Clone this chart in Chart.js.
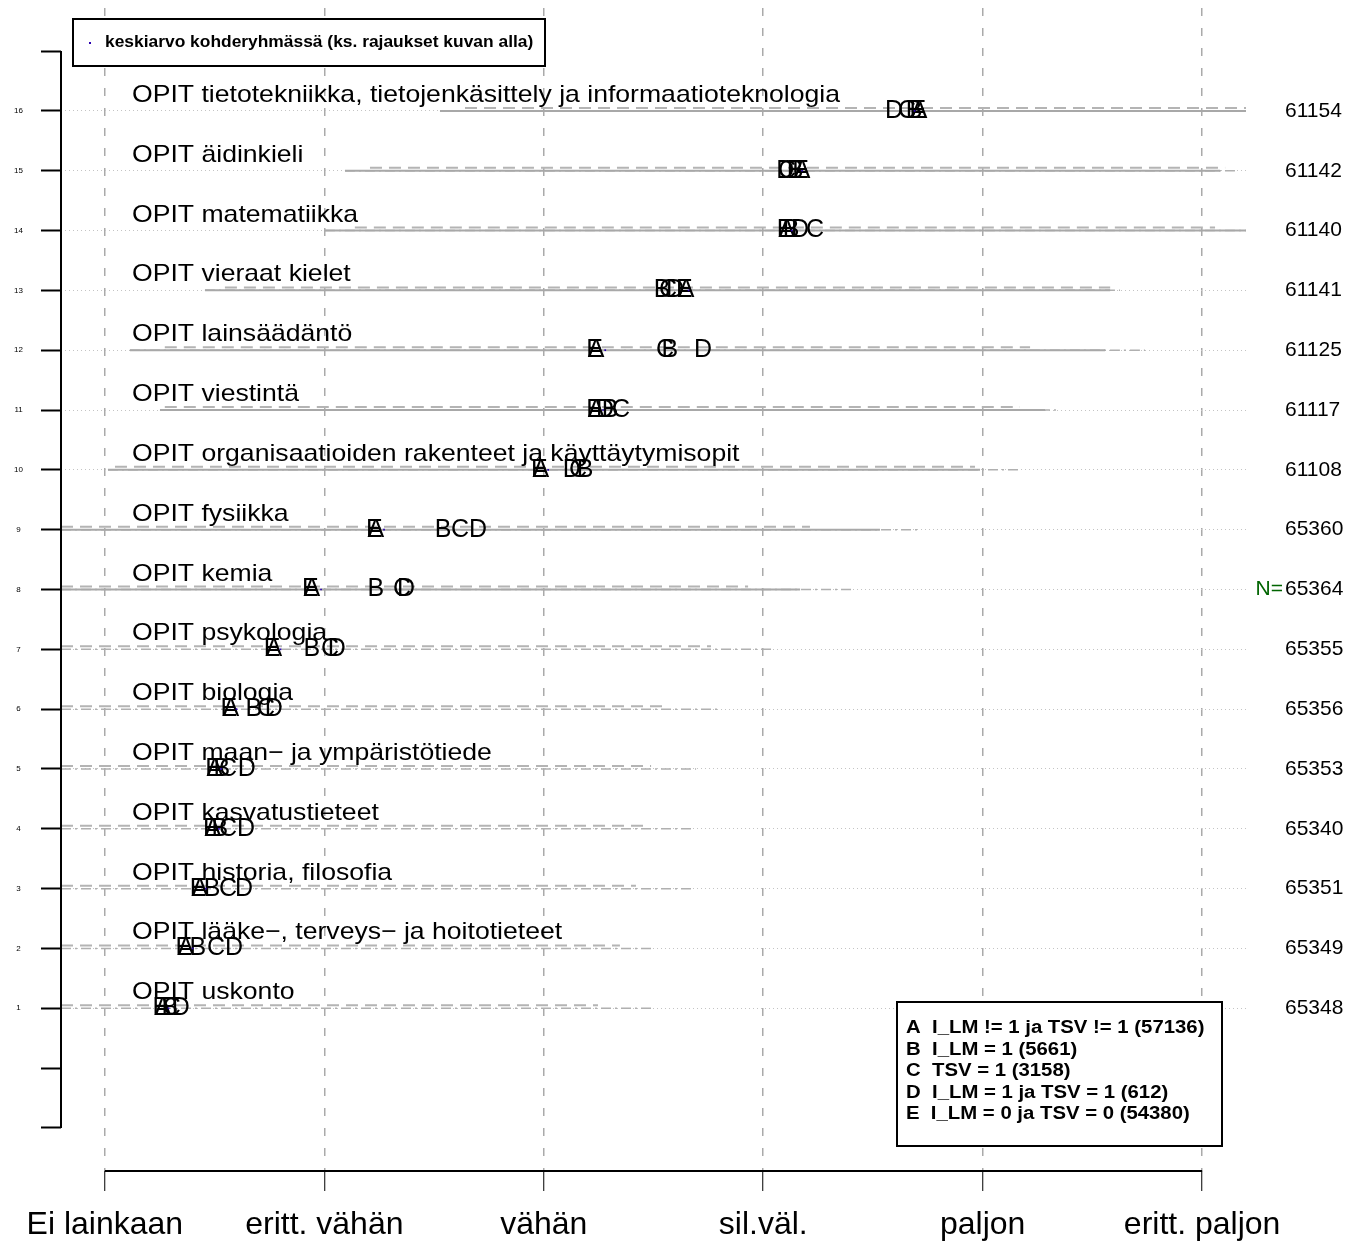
<!DOCTYPE html>
<html>
<head>
<meta charset="utf-8">
<script src="https://cdn.jsdelivr.net/npm/chart.js@4.4.0/dist/chart.umd.min.js"></script>
<style>
  html, body { margin: 0; padding: 0; background: #fff; }
</style>
</head>
<body>
<canvas id="myChart" width="1347" height="1245"></canvas>
<script>
// rows from bottom (1) to top (16)
const rows = [1, 2, 3, 4, 5, 6, 7, 8, 9, 10, 11, 12, 13, 14, 15, 16];
const categories = [
  "OPIT uskonto",
  "OPIT lääke−, terveys− ja hoitotieteet",
  "OPIT historia, filosofia",
  "OPIT kasvatustieteet",
  "OPIT maan− ja ympäristötiede",
  "OPIT biologia",
  "OPIT psykologia",
  "OPIT kemia",
  "OPIT fysiikka",
  "OPIT organisaatioiden rakenteet ja käyttäytymisopit",
  "OPIT viestintä",
  "OPIT lainsäädäntö",
  "OPIT vieraat kielet",
  "OPIT matematiikka",
  "OPIT äidinkieli",
  "OPIT tietotekniikka, tietojenkäsittely ja informaatioteknologia"
];
const nValues = ["65348", "65349", "65351", "65340", "65353", "65356", "65355", "65364",
  "65360", "61108", "61117", "61125", "61141", "61140", "61142", "61154"];
const scaleLabels = ["Ei lainkaan", "eritt. vähän", "vähän", "sil.väl.", "paljon", "eritt. paljon"];

// group means (1 = Ei lainkaan ... 6 = eritt. paljon)
const meanA = [1.264, 1.369, 1.433, 1.492, 1.501, 1.574, 1.770, 1.943, 2.235, 2.987, 3.238, 3.238, 3.648, 4.108, 4.177, 4.710];
const meanB = [1.296, 1.424, 1.488, 1.524, 1.533, 1.679, 1.943, 2.235, 2.541, 3.188, 3.302, 3.575, 3.539, 4.127, 4.145, 4.687];
const meanC = [1.305, 1.506, 1.561, 1.561, 1.561, 1.734, 2.026, 2.354, 2.618, 3.156, 3.352, 3.552, 3.566, 4.236, 4.108, 4.655];
const meanD = [1.346, 1.588, 1.634, 1.643, 1.647, 1.770, 2.057, 2.372, 2.700, 3.128, 3.279, 3.726, 3.598, 4.168, 4.100, 4.596];
const meanE = [1.255, 1.360, 1.425, 1.485, 1.495, 1.565, 1.762, 1.936, 2.228, 2.980, 3.232, 3.232, 3.640, 4.100, 4.170, 4.705];
const targetMean = [1.29, 1.40, 1.46, 1.52, 1.53, 1.60, 1.80, 1.985, 2.272, 3.02, 3.27, 3.28, 3.66, 4.13, 4.177, 4.69];

// spread lines per row
const dashLo = [0.8, 0.8, 0.8, 0.8, 0.8, 0.8, 0.8, 0.8, 0.8, 1.046, 1.273, 1.273, 1.547, 2.139, 2.208, 2.641];
const dashHi = [3.247, 3.347, 3.420, 3.475, 3.489, 3.557, 3.762, 3.931, 4.213, 4.965, 5.170, 5.216, 5.581, 6.059, 6.105, 6.2];
const dotdashLo = [0.8, 0.8, 0.8, 0.8, 0.8, 0.8, 0.8, 0.8, 0.8, 1.014, 1.251, 1.114, 1.456, 2.003, 2.094, 2.527];
const dotdashHi = [3.489, 3.507, 3.675, 3.689, 3.694, 3.798, 4.040, 4.418, 4.715, 5.161, 5.344, 5.740, 5.626, 6.2, 6.150, 6.2];
const solidLo = [null, null, null, null, null, null, null, 0.8, 0.8, 1.014, 1.251, 1.114, 1.456, 2.003, 2.094, 2.527];
const solidHi = [null, null, null, null, null, null, null, 4.168, 4.532, 4.988, 5.284, 5.558, 5.581, 6.2, 6.082, 6.2];

const topLegendText = "keskiarvo kohderyhmässä (ks. rajaukset kuvan alla)";
const groupLegend = [
  "A  I_LM != 1 ja TSV != 1 (57136)",
  "B  I_LM = 1 (5661)",
  "C  TSV = 1 (3158)",
  "D  I_LM = 1 ja TSV = 1 (612)",
  "E  I_LM = 0 ja TSV = 0 (54380)"
];

const FONT = '"Liberation Sans", Arial, Helvetica, sans-serif';
Chart.defaults.font.family = FONT;
Chart.defaults.color = "#000";

const pts = (vals) => rows.map((r, i) => ({ x: vals[i], y: r }));
const segs = (lo, hi, off) => {
  const out = [];
  rows.forEach((r, i) => {
    if (lo[i] == null) return;
    out.push({ x: lo[i], y: r + off }, { x: hi[i], y: r + off }, { x: hi[i], y: null });
  });
  return out;
};

const letterSet = (letter, vals) => ({
  label: letter, letter, data: pts(vals), pointRadius: 0, showLine: false
});

const lineSet = (data, dash, color, width) => ({
  data, showLine: true, pointRadius: 0, borderColor: color, borderWidth: width,
  borderDash: dash, spanGaps: false, fill: false
});

// R draws its text a bit wider than Liberation Sans, so stretch horizontally
function wideText(ctx, text, x, y, sx) {
  ctx.save();
  ctx.translate(x, y);
  ctx.scale(sx, 1);
  ctx.fillText(text, 0, 0);
  ctx.restore();
}

const letterPlugin = {
  id: "letters",
  afterDatasetDraw(chart, args) {
    const ds = chart.data.datasets[args.index];
    if (!ds.letter) return;
    const ctx = chart.ctx;
    ctx.save();
    ctx.font = "25px " + FONT;
    ctx.fillStyle = "#000";
    ctx.textAlign = "center";
    ctx.textBaseline = "middle";
    args.meta.data.forEach(p => ctx.fillText(ds.letter, p.x, p.y));
    ctx.restore();
  }
};

const overlay = {
  id: "overlay",
  afterDraw(chart) {
    const { ctx, chartArea, scales: { x, y } } = chart;
    ctx.save();
    // axis lines
    ctx.strokeStyle = "#000";
    ctx.lineWidth = 2;
    ctx.beginPath();
    ctx.moveTo(chartArea.left, y.getPixelForValue(17));
    ctx.lineTo(chartArea.left, y.getPixelForValue(-1));
    ctx.moveTo(x.getPixelForValue(1), chartArea.bottom);
    ctx.lineTo(x.getPixelForValue(6), chartArea.bottom);
    ctx.stroke();

    // row titles
    ctx.fillStyle = "#000";
    ctx.font = "24px " + FONT;
    ctx.textAlign = "left";
    ctx.textBaseline = "alphabetic";
    categories.forEach((c, i) => wideText(ctx, c, 132, y.getPixelForValue(rows[i]) - 9, 1.108));

    // N=
    ctx.fillStyle = "#006400";
    ctx.font = "21px " + FONT;
    ctx.textAlign = "right";
    ctx.textBaseline = "middle";
    ctx.fillText("N=", 1283, y.getPixelForValue(8));

    // top legend
    ctx.lineWidth = 2;
    ctx.strokeStyle = "#000";
    ctx.fillStyle = "#fff";
    ctx.fillRect(73, 19, 472, 47);
    ctx.strokeRect(73, 19, 472, 47);
    ctx.fillStyle = "#2a00b0";
    ctx.fillRect(89, 42, 2, 2);
    ctx.fillStyle = "#000";
    ctx.font = "bold 16px " + FONT;
    ctx.textAlign = "left";
    ctx.textBaseline = "middle";
    wideText(ctx, topLegendText, 105, 43, 1.087);

    // group legend
    ctx.fillStyle = "#fff";
    ctx.fillRect(897, 1002, 325, 144);
    ctx.strokeRect(897, 1002, 325, 144);
    ctx.fillStyle = "#000";
    ctx.font = "bold 18px " + FONT;
    groupLegend.forEach((t, i) => wideText(ctx, t, 906, 1028 + i * 21.6, 1.13));
    ctx.restore();
  }
};

new Chart(document.getElementById("myChart"), {
  type: "scatter",
  data: {
    datasets: [
      { data: pts(targetMean), pointRadius: 1.2, pointStyle: "rect",
        backgroundColor: "#2a00b0", borderColor: "#2a00b0", borderWidth: 0 },
      letterSet("E", meanE),
      letterSet("D", meanD),
      letterSet("C", meanC),
      letterSet("B", meanB),
      letterSet("A", meanA),
      lineSet(segs(dashLo, dashHi, 0.05), [12, 7], "#b4b4b4", 2),
      lineSet(segs(solidLo, solidHi, 0), [], "#a8a8a8", 2),
      lineSet(segs(dotdashLo, dotdashHi, 0), [10, 4, 2, 4], "#b0b0b0", 1.5)
    ]
  },
  options: {
    responsive: false,
    animation: false,
    events: [],
    layout: { padding: { top: 8, left: 0, right: 0, bottom: 0 } },
    plugins: { legend: { display: false }, tooltip: { enabled: false } },
    scales: {
      x: {
        type: "linear", position: "bottom", min: 0.8, max: 6.2,
        afterBuildTicks: s => { s.ticks = scaleLabels.map((_, i) => ({ value: i + 1 })); },
        afterFit: s => { s.height = 74; s.paddingLeft = 0; s.paddingRight = 0; },
        ticks: {
          callback: v => scaleLabels[v - 1], font: { size: 32 }, padding: 15,
          maxRotation: 0, minRotation: 0, autoSkip: false
        },
        grid: { color: "#aaaaaa", lineWidth: 1.5, tickColor: "#000", tickWidth: 1, tickLength: 20 },
        border: { display: false, dash: [8, 12] }
      },
      y: {
        type: "linear", position: "left", min: -1.72, max: 17.72,
        afterBuildTicks: s => {
          const t = [];
          for (let v = -1; v <= 17; v++) t.push({ value: v });
          s.ticks = t;
        },
        afterFit: s => { s.width = 61; s.paddingTop = 0; s.paddingBottom = 0; },
        ticks: {
          callback: v => (v >= 1 && v <= 16 ? String(v) : ""),
          font: { size: 8 }, crossAlign: "center", padding: 18, autoSkip: false
        },
        grid: {
          color: c => (c.tick && c.tick.value >= 1 && c.tick.value <= 16 ? "#c4c4c4" : "rgba(0,0,0,0)"),
          lineWidth: 1, tickColor: "#000", tickWidth: 2, tickLength: 20
        },
        border: { display: false, dash: [1, 3] }
      },
      y2: {
        type: "linear", position: "right", min: -1.72, max: 17.72,
        afterBuildTicks: s => { s.ticks = rows.map(v => ({ value: v })); },
        afterFit: s => { s.width = 101; s.paddingTop = 0; s.paddingBottom = 0; },
        ticks: {
          callback: v => nValues[rows.indexOf(v)], font: { size: 21 }, padding: 39, autoSkip: false
        },
        grid: { display: false, drawTicks: false },
        border: { display: false }
      }
    }
  },
  plugins: [letterPlugin, overlay]
});
</script>
</body>
</html>
